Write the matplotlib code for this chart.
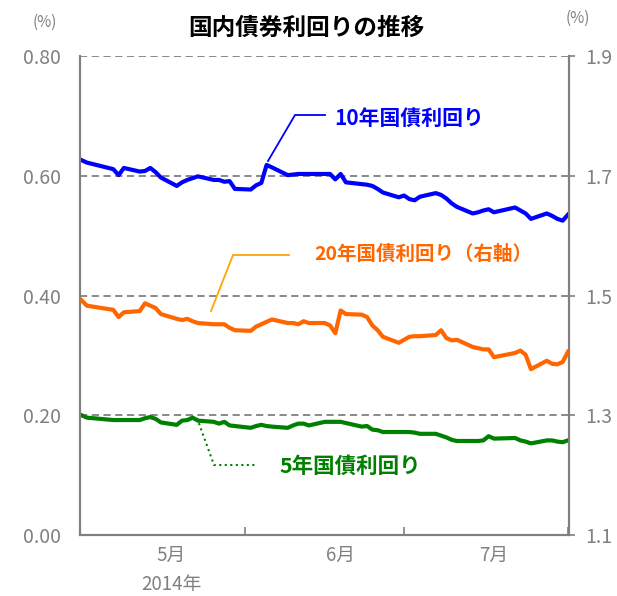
import numpy as np
import pandas as pd
import matplotlib
matplotlib.use("Agg")
import matplotlib.pyplot as plt
import matplotlib.dates as mdates
from matplotlib.lines import Line2D

plt.rcParams['font.family'] = ['Noto Sans CJK JP', 'DejaVu Sans']

# business days May 1 - Aug 1 2014 (Japanese holidays removed)
holidays = ['2014-05-05', '2014-05-06', '2014-07-21']
dates = pd.bdate_range('2014-05-01', '2014-08-01').drop(pd.to_datetime(holidays))

jgb10 = [0.626, 0.622, 0.611, 0.601, 0.613, 0.607, 0.608, 0.613, 0.606, 0.597,
         0.583, 0.589, 0.593, 0.596, 0.599, 0.593, 0.593, 0.590, 0.591, 0.578,
         0.577, 0.584, 0.588, 0.618, 0.614, 0.601, 0.602, 0.603, 0.603, 0.603,
         0.603, 0.603, 0.594, 0.603, 0.589, 0.586, 0.585, 0.583, 0.578, 0.572,
         0.564, 0.567, 0.561, 0.559, 0.565, 0.571, 0.568, 0.562, 0.554, 0.548,
         0.537, 0.539, 0.542, 0.544, 0.539, 0.547, 0.542, 0.537, 0.528, 0.537,
         0.533, 0.528, 0.525, 0.535]

jgb20 = [1.492, 1.483, 1.476, 1.464, 1.472, 1.474, 1.487, 1.483, 1.479, 1.469,
         1.461, 1.459, 1.461, 1.457, 1.454, 1.452, 1.452, 1.452, 1.446, 1.442,
         1.441, 1.448, 1.452, 1.456, 1.460, 1.454, 1.454, 1.452, 1.457, 1.454,
         1.454, 1.450, 1.437, 1.475, 1.469, 1.468, 1.464, 1.450, 1.442, 1.431,
         1.421, 1.426, 1.431, 1.432, 1.432, 1.434, 1.442, 1.429, 1.425, 1.426,
         1.414, 1.412, 1.410, 1.410, 1.397, 1.404, 1.408, 1.401, 1.377, 1.391,
         1.386, 1.385, 1.389, 1.406]

jgb5 = [0.200, 0.196, 0.192, 0.192, 0.192, 0.192, 0.195, 0.197, 0.194, 0.188,
        0.184, 0.191, 0.192, 0.196, 0.191, 0.189, 0.186, 0.189, 0.183, 0.182,
        0.179, 0.182, 0.184, 0.182, 0.181, 0.179, 0.183, 0.186, 0.186, 0.183,
        0.189, 0.189, 0.189, 0.189, 0.187, 0.181, 0.182, 0.176, 0.175, 0.172,
        0.172, 0.172, 0.172, 0.171, 0.169, 0.169, 0.166, 0.163, 0.159, 0.157,
        0.157, 0.157, 0.158, 0.165, 0.161, 0.162, 0.158, 0.156, 0.153, 0.158,
        0.158, 0.156, 0.155, 0.158]

left_ticks = [0.0, 0.2, 0.4, 0.6, 0.8]
right_ticks = [1.1, 1.3, 1.5, 1.7, 1.9]
month_ticks = ['2014-06-01', '2014-07-01', '2014-08-01']
month_label_pos = ['2014-05-18', '2014-06-19', '2014-07-18']
month_labels = ['5月\n2014年', '6月', '7月']

GRAY = '#808080'
BLUE = '#0000FF'
ORANGE = '#FF6600'
GREEN = '#008000'

W, H = 617, 596
fig = plt.figure(figsize=(W / 100, H / 100), dpi=100)
ax = fig.add_axes([80 / W, 1 - 535 / H, 489 / W, 479 / H])
ax2 = ax.twinx()

ax.plot(dates, jgb10, color=BLUE, lw=3.0, zorder=3)
ax.plot(dates, jgb5, color=GREEN, lw=3.0, zorder=3)
ax2.plot(dates, jgb20, color=ORANGE, lw=3.0, zorder=3)

ax.set_ylim(0, 0.8)
ax2.set_ylim(1.1, 1.9)
x0 = mdates.date2num(pd.Timestamp('2014-05-01'))
ax.set_xlim(x0 - 0.3, x0 + 92.2)

ax.set_yticks(left_ticks)
ax.set_yticklabels([f'{v:.2f}' for v in left_ticks])
ax2.set_yticks(right_ticks)
ax2.set_yticklabels([f'{v:.1f}' for v in right_ticks])

ax.yaxis.grid(True, color=GRAY, linestyle=(0, (4, 2.5)), lw=1.3)
ax.set_axisbelow(True)

ax.tick_params(axis='y', length=0, pad=14, labelsize=14, labelcolor=GRAY)
ax2.tick_params(axis='y', length=4, width=1.2, color=GRAY, pad=8,
                labelsize=14, labelcolor=GRAY)

ax.set_xticks(mdates.date2num(pd.to_datetime(month_ticks)))
ax.set_xticklabels([])
ax.set_xticks(mdates.date2num(pd.to_datetime(month_label_pos)), minor=True)
ax.set_xticklabels(month_labels, minor=True, linespacing=1.5)
ax.tick_params(axis='x', which='major', direction='in', length=6, width=1.2, color=GRAY)
ax.tick_params(axis='x', which='minor', length=0, pad=7, labelsize=13.5, labelcolor=GRAY)

for a in (ax, ax2):
    a.spines['top'].set_visible(False)
    for s in ('left', 'right', 'bottom'):
        a.spines[s].set_color(GRAY)
        a.spines[s].set_linewidth(1.5)

fig.text(306 / W, 1 - 28 / H, '国内債券利回りの推移', ha='center', va='center',
         fontsize=17, fontweight='bold', color='black')
fig.text(45 / W, 1 - 22 / H, '(%)', ha='center', va='center', fontsize=11, color=GRAY)
fig.text(578 / W, 1 - 18 / H, '(%)', ha='center', va='center', fontsize=11, color=GRAY)


def leader(pts, color, ls='-', lw=1.3):
    xs = [p[0] / W for p in pts]
    ys = [1 - p[1] / H for p in pts]
    fig.add_artist(Line2D(xs, ys, color=color, lw=lw, ls=ls))


leader([(268, 161), (295, 115), (325, 115)], BLUE)
fig.text(334 / W, 1 - 119 / H, '10年国債利回り', ha='left', va='center',
         fontsize=15, fontweight='bold', color=BLUE)

leader([(211, 311), (233, 255), (289, 255)], '#FFA500')
fig.text(314 / W, 1 - 254 / H, '20年国債利回り（右軸）', ha='left', va='center',
         fontsize=14, fontweight='bold', color=ORANGE)

leader([(197, 418), (214, 465), (255, 465)], GREEN, ls=':', lw=1.5)
fig.text(279 / W, 1 - 466 / H, '5年国債利回り', ha='left', va='center',
         fontsize=15.5, fontweight='bold', color=GREEN)

fig.savefig('out.png', dpi=100)
